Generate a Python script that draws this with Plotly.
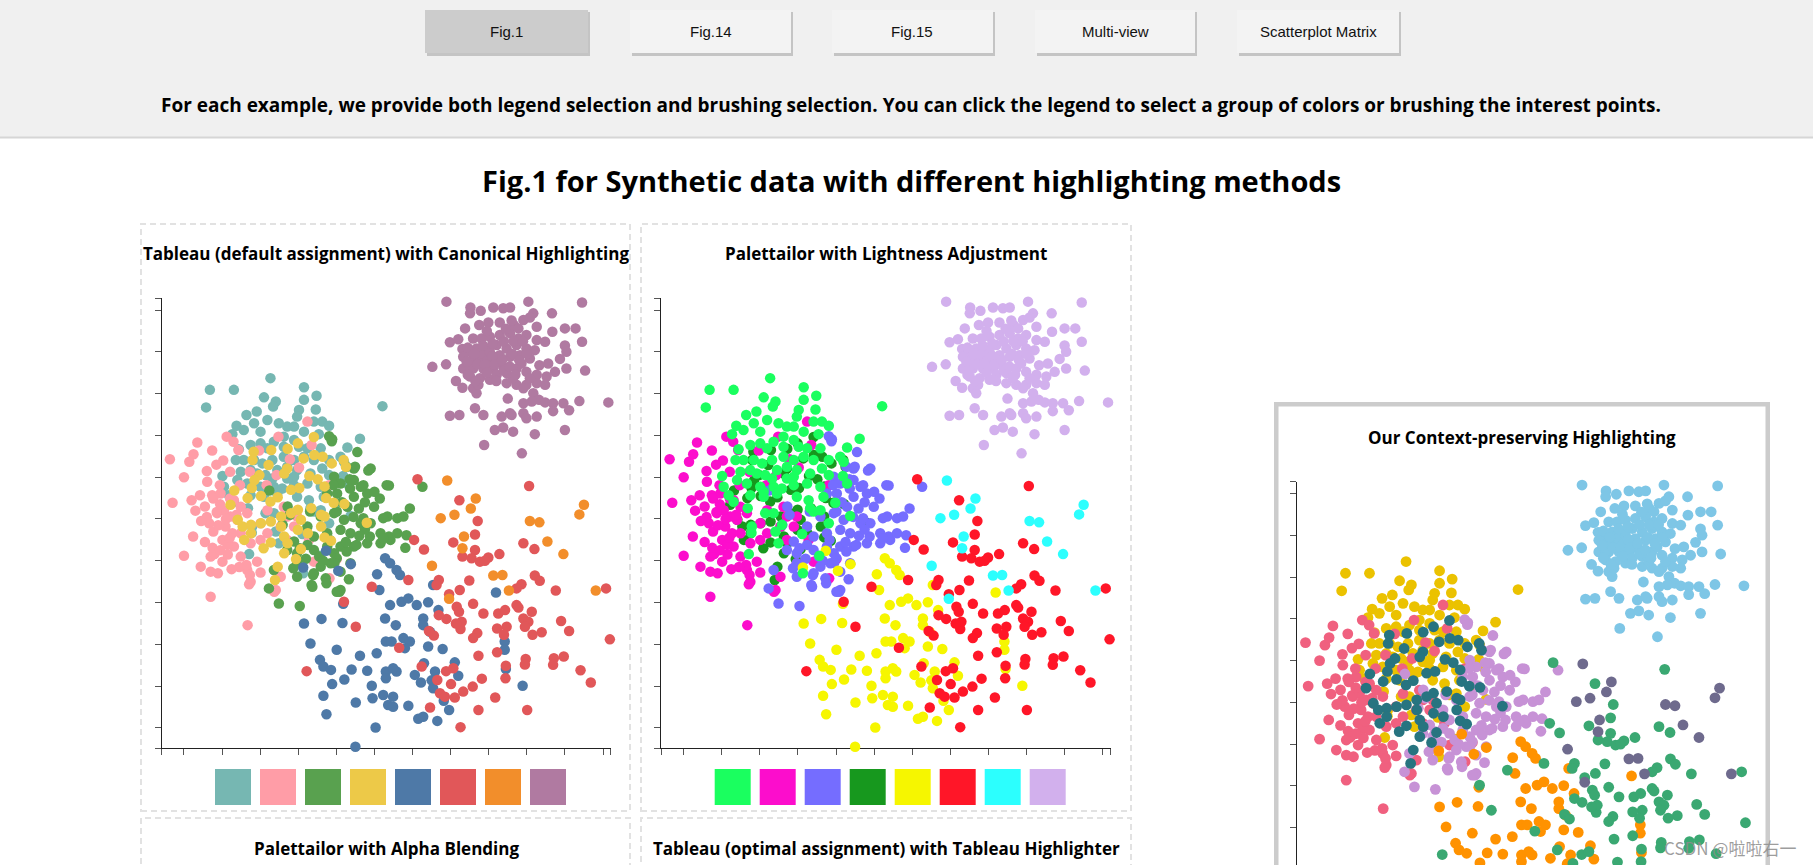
import plotly.graph_objects as go

W, H = 1813, 865

# ---------------- data (axis units; ticks at integers) ----------------
CLASSES = ["teal", "pink", "green", "yellow", "blue", "red", "orange", "purple"]

TEAL = [(2.27,8.37),(0.68,8.09),(1.31,8.09),(3.15,8.15),(0.58,7.67),(2.10,7.91),(2.41,7.81),(2.34,7.69),(3.15,7.85),(3.48,7.95),(5.21,7.70),(3.46,7.62),(1.64,7.49),(1.91,7.57),(3.02,7.61),(2.97,7.45),(1.38,7.23),(1.27,7.03),(1.57,7.13),(1.84,7.29),(2.19,7.37),(2.49,7.29),(2.71,7.21),(2.89,7.21),(3.15,7.09),(3.41,7.33),(3.63,7.33),(3.81,7.23),(3.54,7.03),(2.01,7.09),(2.36,6.85),(2.62,6.97),(2.89,6.89),(4.62,6.92),(1.44,6.67),(1.75,6.77),(2.01,6.81),(2.19,6.69),(2.62,6.73),(3.02,6.73),(3.24,6.69),(3.59,6.69),(4.29,6.71),(1.36,6.41),(1.57,6.41),(1.84,6.41),(2.06,6.33),(2.32,6.41),(2.62,6.49),(2.89,6.41),(3.15,6.49),(3.41,6.41),(3.81,6.41),(4.11,6.49),(4.20,6.37),(1.01,6.03),(1.49,6.13),(1.75,6.17),(1.92,6.09),(2.14,6.05),(2.45,6.17),(2.71,6.25),(2.97,6.17),(3.32,6.09),(3.63,6.21),(3.81,6.05),(4.18,6.03),(4.29,5.85),(1.05,5.77),(1.40,5.93),(1.66,5.85),(2.01,5.77),(2.36,5.77),(2.58,5.73),(2.89,5.81),(3.24,5.85),(3.59,5.77),(1.18,5.57),(1.31,5.41),(1.75,5.57),(2.10,5.53),(2.45,5.61),(2.97,5.53),(3.28,5.45),(3.67,5.53),(3.98,5.39),(1.68,5.26),(2.14,5.14),(2.36,5.14),(2.58,4.86),(3.32,5.26),(3.41,5.18),(3.59,5.21),(4.37,5.07),(3.81,4.90),(1.79,4.82),(1.78,4.67),(2.41,4.70),(2.49,4.42),(3.11,4.64),(1.71,4.16),(3.56,4.12),(3.13,3.70),(2.10,5.65),(2.89,6.01),(2.32,5.97),(2.71,5.97)]

PINK = [(-0.59,6.36),(-0.37,6.43),(0.14,6.37),(0.00,6.00),(0.35,6.83),(0.74,6.64),(1.12,6.97),(1.03,6.40),(-0.30,5.39),(0.42,5.57),(0.61,5.89),(0.74,5.57),(0.96,5.61),(0.87,5.14),(0.66,4.90),(0.77,4.70),(1.01,4.50),(0.24,4.58),(0.00,4.12),(0.44,3.86),(0.70,4.10),(0.80,4.16),(1.01,3.98),(0.70,3.74),(0.89,3.70),(0.70,3.14),(1.75,3.50),(1.71,3.44),(2.01,3.72),(1.66,3.78),(1.92,3.98),(1.49,4.10),(1.31,4.34),(1.14,4.38),(1.49,4.66),(1.75,4.42),(2.01,4.50),(1.40,4.98),(1.22,5.06),(1.05,5.21),(1.31,5.45),(1.66,5.14),(2.01,4.90),(2.19,4.66),(2.54,4.82),(2.71,5.06),(2.89,4.82),(2.97,5.06),(2.97,3.94),(2.54,3.62),(2.41,3.30),(3.41,3.98),(3.82,3.58),(4.01,4.04),(3.28,4.50),(3.81,5.81),(3.24,7.33),(1.27,4.66),(1.09,4.82),(1.49,5.29),(2.71,4.50),(2.19,5.21),(2.62,5.29),(0.75,4.31),(1.67,2.46),(1.73,3.66),(1.64,3.90),(2.37,3.26),(1.43,6.65),(1.97,6.64),(2.48,6.97),(2.78,6.43),(3.35,6.77),(3.02,6.23),(0.77,5.49),(0.94,5.81),(1.21,5.49),(1.47,5.81),(0.86,5.17),(1.38,5.10),(2.17,5.81),(2.43,6.05),(1.73,6.13),(1.21,6.13),(0.55,5.30),(0.60,5.05),(0.95,5.35),(1.10,5.00),(0.90,4.85),(1.20,4.55),(0.55,4.45),(0.45,4.95),(0.30,5.20),(0.20,5.45),(1.15,4.15),(0.95,4.25),(1.45,3.85),(1.25,3.80),(0.60,6.15),(0.85,6.30),(1.30,6.85),(0.25,6.55)]

GREEN = [(3.89,6.91),(4.55,6.60),(4.46,6.21),(4.90,6.21),(5.38,5.80),(5.14,5.49),(4.64,5.77),(4.81,5.61),(4.46,5.53),(4.99,5.29),(5.34,5.06),(5.60,5.02),(5.16,4.66),(4.90,4.90),(4.64,4.90),(4.37,4.66),(4.11,4.74),(3.76,4.66),(3.41,4.58),(3.24,4.38),(2.89,4.46),(2.71,4.26),(2.97,4.18),(3.41,4.26),(3.76,4.34),(4.11,4.34),(4.46,4.34),(4.81,4.42),(5.16,4.42),(5.42,4.50),(2.36,3.78),(2.23,3.34),(2.49,2.98),(3.04,2.92),(3.37,3.38),(3.72,3.58),(4.11,3.74),(4.33,3.56),(4.37,3.94),(3.85,3.94),(4.11,3.30),(3.59,3.86),(3.94,4.18),(4.29,5.29),(4.59,5.25),(4.20,4.98),(4.02,5.61),(3.76,5.61),(3.94,6.01),(4.11,5.85),(4.46,5.93),(5.38,4.58),(5.60,4.66),(3.41,3.70),(2.97,3.62),(3.24,4.82),(3.59,5.06),(3.94,5.14),(2.97,3.94),(4.84,6.16),(5.93,5.25),(5.76,5.06),(6.26,5.77),(5.84,4.61),(5.81,4.31),(3.81,6.98),(3.88,6.86),(4.08,3.26),(3.35,3.42),(4.27,6.25),(4.49,6.25),(4.36,5.73),(4.71,5.81),(5.32,5.81),(3.92,5.81),(3.31,5.18),(2.78,5.10),(4.01,5.18),(5.23,5.02),(4.71,5.02),(2.87,3.82),(3.74,3.46),(4.01,3.26),(3.39,3.66),(4.01,4.06),(4.27,4.22),(4.53,4.38),(4.88,4.58),(5.23,4.54),(3.83,4.50),(3.04,4.30),(2.24,5.68),(2.72,5.30),(2.59,4.86),(3.55,4.10),(3.95,3.95),(4.25,4.45),(4.60,4.60),(4.75,4.75),(4.45,5.05),(4.15,5.40),(4.35,5.95),(4.75,5.40),(5.00,5.65),(3.65,4.00),(3.20,4.05)]

YELLOW = [(3.41,6.96),(2.99,6.81),(2.72,6.68),(2.29,6.65),(1.83,6.61),(1.80,6.41),(2.22,6.29),(3.14,6.45),(3.42,6.53),(3.64,6.49),(3.88,6.33),(4.19,6.41),(4.25,6.25),(2.71,6.21),(2.63,6.09),(1.98,6.05),(1.85,5.93),(1.78,5.74),(1.32,5.68),(1.22,5.34),(1.67,5.50),(2.02,5.55),(2.27,5.42),(2.46,5.52),(2.81,5.70),(3.03,5.74),(3.29,6.03),(3.51,5.95),(3.69,5.78),(3.73,5.50),(3.93,5.39),(4.21,5.36),(4.80,4.91),(1.41,4.98),(1.54,4.82),(1.76,4.86),(2.02,4.90),(2.28,4.94),(2.55,5.06),(2.81,5.14),(2.99,5.22),(3.34,5.26),(3.60,5.10),(3.69,5.06),(3.07,4.98),(2.99,4.74),(3.25,4.66),(3.60,4.82),(3.69,4.56),(3.86,4.48),(1.58,4.50),(2.09,4.30),(2.28,4.44),(2.63,4.58),(2.72,4.42),(2.63,4.18),(2.94,4.04),(3.07,4.28),(2.46,3.86),(2.39,3.54),(1.76,4.66),(2.55,4.82)]

BLUE = [(3.73,4.24),(3.13,3.84),(4.05,3.76),(4.38,3.92),(5.07,3.68),(5.13,3.30),(5.28,4.06),(4.18,2.97),(3.15,2.50),(3.61,2.61),(4.16,2.51),(5.28,2.62),(5.30,2.07),(3.32,2.02),(4.01,1.87),(4.62,1.73),(5.06,1.79),(3.57,1.63),(3.66,1.47),(3.86,1.39),(4.40,1.40),(4.81,1.37),(5.30,1.35),(5.30,1.19),(4.21,1.16),(3.89,1.05),(4.93,1.01),(3.66,0.77),(4.95,0.71),(5.23,0.79),(4.51,0.61),(5.36,0.55),(3.74,0.33),(5.03,0.01),(4.50,-0.45),(5.58,3.78),(5.67,3.66),(5.41,3.94),(5.41,2.94),(5.71,3.02),(5.89,3.10),(6.11,2.94),(6.41,3.01),(6.68,2.82),(6.28,2.62),(6.28,2.46),(5.56,2.46),(6.46,2.30),(5.45,2.07),(5.76,2.15),(5.93,2.07),(5.80,1.91),(6.41,1.95),(6.79,1.89),(5.58,1.35),(5.49,1.43),(6.06,1.27),(6.30,1.55),(6.59,1.35),(7.11,1.57),(7.20,1.25),(6.22,1.09),(6.50,1.14),(6.54,0.95),(6.82,0.65),(5.49,0.75),(5.49,0.51),(5.89,0.53),(6.15,0.22),(6.28,0.27),(6.65,0.17),(6.96,0.43),(8.19,3.24),(8.42,2.07),(8.42,1.87),(8.45,1.41),(8.89,1.01),(6.54,3.42)]

RED = [(6.13,5.95),(7.23,5.45),(7.71,4.95),(9.06,5.79),(6.04,4.50),(6.30,4.27),(7.07,4.44),(7.64,4.63),(8.91,4.42),(9.20,4.28),(8.28,4.16),(7.31,4.10),(7.64,4.26),(7.55,4.06),(7.77,3.98),(7.99,4.08),(7.90,4.00),(5.89,3.54),(6.69,3.54),(6.63,3.42),(7.49,3.53),(7.24,3.30),(6.96,3.20),(7.59,2.97),(7.16,2.90),(7.22,2.78),(7.86,2.74),(8.25,2.74),(8.43,2.82),(8.73,2.94),(8.78,2.88),(8.86,3.44),(8.73,3.34),(9.21,3.65),(9.34,3.52),(9.76,3.29),(11.08,3.34),(9.13,2.78),(8.91,2.62),(9.04,2.54),(8.47,2.42),(8.22,2.38),(7.70,2.27),(7.59,2.15),(7.26,2.37),(7.29,2.54),(7.14,2.50),(6.89,2.61),(6.69,2.70),(6.43,2.32),(6.56,2.21),(8.40,2.23),(9.39,2.29),(9.15,2.23),(8.95,2.42),(9.90,2.56),(10.11,2.32),(11.18,2.12),(5.65,1.92),(6.24,1.47),(6.88,1.36),(7.07,1.43),(7.73,1.73),(8.22,1.81),(8.45,1.49),(8.97,1.65),(8.95,1.52),(9.71,1.67),(9.69,1.51),(9.97,1.71),(10.41,1.38),(10.68,1.09),(8.44,1.19),(7.82,1.18),(6.65,1.15),(7.01,1.05),(6.72,0.83),(6.85,0.75),(7.11,0.73),(7.33,0.87),(7.58,0.99),(8.17,0.73),(6.46,0.49),(7.73,0.43),(9.01,0.43),(7.26,0.02),(4.93,3.38),(4.20,3.02),(4.51,2.42),(3.22,1.36)]

ORANGE = [(6.91,5.92),(7.66,5.49),(7.53,5.25),(7.10,5.10),(6.74,5.02),(9.08,4.95),(9.33,4.92),(10.50,5.34),(10.38,5.11),(7.35,4.58),(7.31,4.30),(9.54,4.46),(9.96,4.16),(6.51,3.88),(8.12,3.65),(8.36,3.66),(8.53,3.29),(10.81,3.29),(6.96,3.09)]

PURPLE = [(6.89,10.20),(8.14,10.30),(9.04,10.20),(10.45,10.18),(7.52,10.06),(7.79,9.98),(7.51,9.92),(8.12,10.06),(8.38,10.04),(8.56,10.06),(9.17,9.92),(9.66,9.92),(7.38,9.56),(7.75,9.64),(7.99,9.70),(8.29,9.70),(8.66,9.64),(8.91,9.76),(9.08,9.82),(9.26,9.60),(9.67,9.48),(10.00,9.56),(10.28,9.56),(6.98,9.23),(7.20,9.30),(7.59,9.32),(7.81,9.32),(8.03,9.36),(8.29,9.40),(8.56,9.44),(8.78,9.56),(8.99,9.40),(9.26,9.28),(9.48,9.24),(10.00,9.15),(10.45,9.24),(7.31,9.07),(7.51,9.00),(7.68,9.08),(7.94,9.04),(8.21,9.16),(8.47,9.08),(8.73,9.16),(8.99,9.08),(9.21,9.04),(10.04,9.00),(9.87,8.83),(6.52,8.64),(6.88,8.70),(7.33,8.88),(7.59,8.84),(7.77,8.76),(8.03,8.80),(8.29,8.92),(8.56,8.88),(8.82,8.92),(9.08,8.84),(9.33,8.68),(9.56,8.72),(9.74,8.52),(10.04,8.60),(10.53,8.55),(7.33,8.60),(7.59,8.60),(7.86,8.60),(8.12,8.60),(8.38,8.64),(8.73,8.60),(8.99,8.52),(9.26,8.45),(9.52,8.41),(7.14,8.30),(7.31,8.14),(7.51,8.41),(7.77,8.37),(8.03,8.33),(8.47,8.25),(8.73,8.21),(8.99,8.21),(9.26,8.25),(9.48,8.21),(7.59,8.13),(7.68,8.01),(8.91,8.13),(9.17,8.01),(8.50,7.88),(9.32,7.85),(9.48,7.79),(9.69,7.77),(9.96,7.77),(10.38,7.82),(11.14,7.79),(6.98,7.47),(7.23,7.49),(7.64,7.65),(7.86,7.49),(8.34,7.45),(8.60,7.49),(8.91,7.53),(8.99,7.41),(9.26,7.45),(9.69,7.58),(10.11,7.60),(8.16,7.13),(8.38,7.19),(8.64,7.09),(9.21,7.03),(10.00,7.13),(7.88,6.77),(8.87,6.57),(8.03,8.64),(8.21,8.45),(8.29,8.76),(7.94,8.92),(7.77,8.96),(8.47,8.49),(8.64,8.37),(8.86,8.72),(9.08,8.37),(8.78,9.32),(8.03,9.00),(7.51,8.64),(7.42,8.76),(7.73,8.21),(9.13,7.81),(8.91,7.77),(8.56,7.53),(7.45,9.10),(7.62,8.95),(7.70,8.70),(7.90,8.70),(7.95,8.50),(8.10,8.90),(8.15,8.70),(8.35,8.80),(8.40,8.55),(8.55,8.65),(8.62,8.95),(8.70,8.45),(8.80,8.80),(7.85,9.15),(8.10,9.20),(8.40,9.25),(8.65,9.25),(8.90,9.25),(9.00,8.95),(8.20,8.30),(7.45,8.45),(7.65,8.30),(8.60,9.75),(8.45,9.55),(7.95,9.50)]

POINTS = {"teal": TEAL, "pink": PINK, "green": GREEN, "yellow": YELLOW,
          "blue": BLUE, "red": RED, "orange": ORANGE, "purple": PURPLE}

# palettes (same class order as CLASSES)
TABLEAU = ["#76b7b2", "#ff9da7", "#59a14f", "#edc948", "#4e79a7", "#e15759", "#f28e2b", "#b07aa1"]
LIGHTNESS = ["#1aff5f", "#fc0dcc", "#756dff", "#17981e", "#f6f600", "#ff1628", "#2cfffe", "#d2b0ed"]
CONTEXT = ["#ebc200", "#f0607f", "#c792d6", "#277480", "#ff9200", "#3aa872", "#6e6a8d", "#7ec6e6"]

ORDER1 = ["teal", "pink", "green", "blue", "red", "orange", "purple", "yellow"]
ORDER2 = ["yellow", "pink", "green", "blue", "red", "orange", "purple", "teal"]
ORDER3 = ["teal", "pink", "green", "blue", "red", "orange", "purple", "yellow"]

X_RANGE = [-0.585, 11.21]
Y_RANGE = [-0.486, 10.28]
X_TICKS = [-0.584] + list(range(12)) + [11.209]
Y_TICKS = [-0.485] + list(range(11)) + [10.279]

BUTTONS = ["Fig.1", "Fig.14", "Fig.15", "Multi-view", "Scatterplot Matrix"]
INSTRUCTION = ("For each example, we provide both legend selection and brushing selection. "
               "You can click the legend to select a group of colors or brushing the interest points.")
MAIN_TITLE = "Fig.1 for Synthetic data with different highlighting methods"
PANEL_TITLES = ["Tableau (default assignment) with Canonical Highlighting",
                "Palettailor with Lightness Adjustment",
                "Our Context-preserving Highlighting",
                "Palettailor with Alpha Blending",
                "Tableau (optimal assignment) with Tableau Highlighter"]
WATERMARK = "CSDN @啦啦右一"


def px(x):
    return x / W


def py(y):
    return 1 - y / H


fig = go.Figure()


def add_panel(n, palette, order, size):
    xa = "x" if n == 1 else f"x{n}"
    ya = "y" if n == 1 else f"y{n}"
    for cls in order:
        pts = POINTS[cls]
        fig.add_trace(go.Scatter(
            x=[p[0] for p in pts], y=[p[1] for p in pts], mode="markers",
            marker=dict(size=size, color=palette[CLASSES.index(cls)], line=dict(width=0)),
            xaxis=xa, yaxis=ya, cliponaxis=False, hoverinfo="skip", showlegend=False))


add_panel(1, TABLEAU, ORDER1, 10.5)
add_panel(2, LIGHTNESS, ORDER2, 10.5)
add_panel(3, CONTEXT, ORDER3, 10.8)


def axis(domain, rng, tv, show=True):
    return dict(domain=domain, range=rng, tickvals=tv, ticks="outside" if show else "",
                ticklen=6, tickwidth=1, tickcolor="#555", showline=show, linecolor="#222",
                linewidth=1.3, showgrid=False, zeroline=False, showticklabels=False,
                fixedrange=True, layer="below traces")


P1_L, P1_R, P_TOP, P_BOT = 161.7, 611.0, 298.3, 748.3
DX2 = 499.7
P3_L, P3_TOP = 1297.3, 481.7
P3_YMIN = Y_RANGE[1] - (H - P3_TOP) / ((P_BOT - P_TOP) / (Y_RANGE[1] - Y_RANGE[0]))

layout_axes = dict(
    xaxis=axis([px(P1_L), px(P1_R)], X_RANGE, X_TICKS),
    yaxis=axis([py(P_BOT), py(P_TOP)], Y_RANGE, Y_TICKS),
    xaxis2=axis([px(P1_L + DX2), px(P1_R + DX2)], X_RANGE, X_TICKS),
    yaxis2=axis([py(P_BOT), py(P_TOP)], Y_RANGE, Y_TICKS),
    xaxis3=axis([px(P3_L), px(P3_L + P1_R - P1_L)], X_RANGE, X_TICKS, show=False),
    yaxis3=axis([0, py(P3_TOP)], [P3_YMIN, Y_RANGE[1]], Y_TICKS),
)
layout_axes["yaxis2"]["anchor"] = "x2"
layout_axes["xaxis2"]["anchor"] = "y2"
layout_axes["yaxis3"]["anchor"] = "x3"
layout_axes["xaxis3"]["anchor"] = "y3"

shapes = []
ann = []


def rect(x0, y0, x1, y1, fill=None, line=None, layer="below"):
    d = dict(type="rect", xref="paper", yref="paper", x0=px(x0), x1=px(x1), y0=py(y1), y1=py(y0),
             layer=layer, line=line or dict(width=0))
    if fill:
        d["fillcolor"] = fill
    shapes.append(d)


def text(x, y, s, size, bold=False, family="Open Sans", color="#000"):
    ann.append(dict(x=px(x), y=py(y), xref="paper", yref="paper", text=s, showarrow=False,
                    xanchor="center", yanchor="middle",
                    font=dict(family=family, size=size, color=color,
                              weight="bold" if bold else "normal")))


# top band
rect(0, 0, W, 137, fill="#f0f0f0")
shapes.append(dict(type="line", xref="paper", yref="paper", x0=0, x1=1, y0=py(137.5), y1=py(137.5),
                   line=dict(color="#d6d6d6", width=2), layer="below"))

# buttons
btn_x = [(425, 588), (630, 791), (832, 993), (1035, 1195), (1237, 1399)]
for i, (b, (x0, x1)) in enumerate(zip(BUTTONS, btn_x)):
    rect(x0 + 2, 12, x1 + 2, 56, fill="#c4c4c4")
    rect(x0, 10, x1, 53, fill="#cccccc" if i == 0 else "#f3f3f3")
    text((x0 + x1) / 2, 32, b, 15, family="Liberation Sans", color="#111")

text(911, 105, INSTRUCTION, 19, bold=True)
text(911, 181, MAIN_TITLE, 29, bold=True)

# dashed panel boxes
dash = dict(color="#e2e2e2", width=2, dash="6px,4px")
rect(141, 224, 630, 811, line=dash)
rect(641, 224, 1131, 811, line=dash)
rect(141, 818, 630, 880, line=dash)
rect(641, 818, 1131, 880, line=dash)

# context panel box
rect(1276.25, 404.25, 1767.75, 890, line=dict(color="#cccccc", width=4.5))

text(386, 254, PANEL_TITLES[0], 17, bold=True)
text(886, 254, PANEL_TITLES[1], 17, bold=True)
text(1522, 437, PANEL_TITLES[2], 17, bold=True)
text(386, 848, PANEL_TITLES[3], 17, bold=True)
text(886, 848, PANEL_TITLES[4], 17, bold=True)

# legends (colour swatches)
for i in range(len(CLASSES)):
    x0 = 215 + 45 * i
    rect(x0, 769, x0 + 36, 805, fill=TABLEAU[i], layer="above")
    rect(x0 + DX2, 769, x0 + DX2 + 36, 805, fill=LIGHTNESS[i], layer="above")

text(1730, 847, WATERMARK, 17, family="Noto Sans CJK SC", color="rgba(140,140,140,0.85)")

fig.update_layout(
    width=W, height=H, autosize=False,
    margin=dict(l=0, r=0, t=0, b=0, pad=0),
    paper_bgcolor="#ffffff", plot_bgcolor="rgba(0,0,0,0)",
    shapes=shapes, annotations=ann, showlegend=False,
    **layout_axes,
)

fig.write_html("out.html", config={"displayModeBar": False})
